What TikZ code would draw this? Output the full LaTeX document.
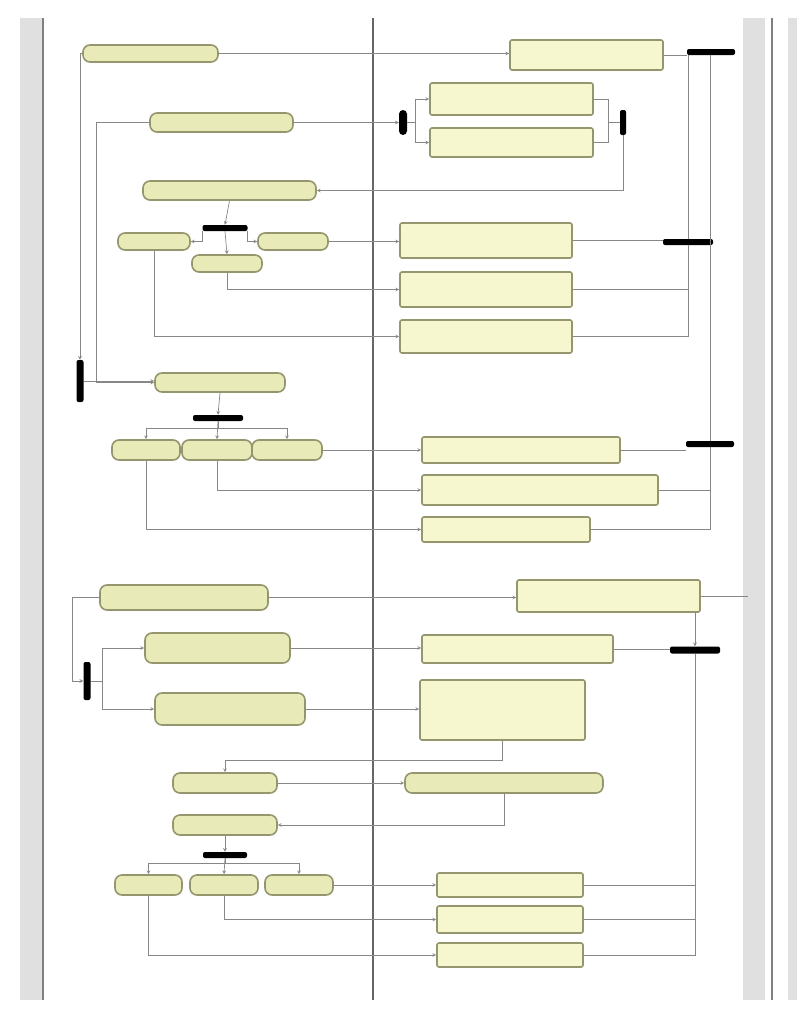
\documentclass[tikz,border=0pt]{standalone}
\usetikzlibrary{positioning}
\definecolor{boxfill}{RGB}{246,247,206}
\definecolor{pillfill}{RGB}{232,234,184}
\definecolor{boxline}{RGB}{150,150,110}
\definecolor{flowline}{RGB}{135,135,135}
\definecolor{lanegray}{RGB}{224,224,224}
\tikzset{
  lbox/.style={draw=boxline, fill=pillfill, line width=1.6pt, rounded corners=7pt, inner sep=0pt},
  rbox/.style={draw=boxline, fill=boxfill, line width=1.6pt, rounded corners=2pt, inner sep=0pt},
  bar/.style={fill=black, rounded corners=2pt, inner sep=0pt},
  flow/.style={draw=flowline, line width=0.7pt}
}

\begin{document}
\begin{tikzpicture}[x=1pt, y=-1pt, >=stealth]
    \useasboundingbox[fill=white] (0,0) rectangle (803,1012);

    % swimlanes
    \fill[lanegray] (20,18) rectangle (42,1000);
    \draw[gray, line width=1.8pt] (43,18) -- (43,1000);
    \draw[gray!80!black, line width=1.5pt] (373,18) -- (373,1000);
    \fill[lanegray] (743,18) rectangle (765,1000);
    \draw[gray, line width=1.8pt] (772,18) -- (772,1000);
    \fill[lanegray] (788,18) rectangle (797,1000);

    % left lane
    \node[lbox, minimum width=135, minimum height=17] at (150.5,53.5)(a1){};
    \node[lbox, minimum width=143, minimum height=19] at (221.5,122.5)(a2){};
    \node[lbox, minimum width=173, minimum height=19] at (229.5,190.5)(a3){};
    \node[lbox, minimum width=72, minimum height=17] at (154,241.5)(b1){};
    \node[lbox, minimum width=70, minimum height=17] at (293,241.5)(b2){};
    \node[lbox, minimum width=70, minimum height=17] at (227,263.5)(b3){};
    \node[lbox, minimum width=130, minimum height=19] at (220,382.5)(a4){};
    \node[lbox, minimum width=68, minimum height=20] at (146,450)(c1){};
    \node[lbox, minimum width=70, minimum height=20] at (217,450)(c2){};
    \node[lbox, minimum width=70, minimum height=20] at (287,450)(c3){};
    \node[lbox, minimum width=168, minimum height=25] at (184,597.5)(a5){};
    \node[lbox, minimum width=145, minimum height=30] at (217.5,648)(a6){};
    \node[lbox, minimum width=150, minimum height=32] at (230,709)(a7){};
    \node[lbox, minimum width=104, minimum height=20] at (225,783)(a8){};
    \node[lbox, minimum width=104, minimum height=20] at (225,825)(a9){};
    \node[lbox, minimum width=67, minimum height=20] at (148.5,885)(d1){};
    \node[lbox, minimum width=68, minimum height=20] at (224,885)(d2){};
    \node[lbox, minimum width=68, minimum height=20] at (299,885)(d3){};

    % right lane
    \node[rbox, minimum width=153, minimum height=30] at (586.5,55)(r1){};
    \node[rbox, minimum width=163, minimum height=32] at (511.5,99)(r2){};
    \node[rbox, minimum width=163, minimum height=29] at (511.5,142.5)(r3){};
    \node[rbox, minimum width=172, minimum height=35] at (486,240.5)(r4){};
    \node[rbox, minimum width=172, minimum height=35] at (486,289.5)(r5){};
    \node[rbox, minimum width=172, minimum height=33] at (486,336.5)(r6){};
    \node[rbox, minimum width=198, minimum height=26] at (521,450)(r7){};
    \node[rbox, minimum width=236, minimum height=30] at (540,490)(r8){};
    \node[rbox, minimum width=168, minimum height=25] at (506,529.5)(r9){};
    \node[rbox, minimum width=183, minimum height=32] at (608.5,596)(r10){};
    \node[rbox, minimum width=191, minimum height=28] at (517.5,649)(r11){};
    \node[rbox, minimum width=165, minimum height=60] at (502.5,710)(r12){};
    \node[lbox, minimum width=198, minimum height=20] at (504,783)(r13){};
    \node[rbox, minimum width=146, minimum height=24] at (510,885)(r14){};
    \node[rbox, minimum width=146, minimum height=27] at (510,919.5)(r15){};
    \node[rbox, minimum width=146, minimum height=24] at (510,955)(r16){};

    % fork and join bars
    \node[bar, minimum width=48, minimum height=6] at (711,52)(j0){};
    \node[bar, minimum width=8, minimum height=25, rounded corners=4pt] at (403,122.5)(f1){};
    \node[bar, minimum width=6, minimum height=25] at (623,122.5)(j1){};
    \node[bar, minimum width=45, minimum height=6] at (225,228)(f2){};
    \node[bar, minimum width=50, minimum height=6] at (688,242)(j2){};
    \node[bar, minimum width=7, minimum height=42] at (80,381)(j3){};
    \node[bar, minimum width=50, minimum height=6] at (218,418)(f3){};
    \node[bar, minimum width=48, minimum height=6] at (710,444)(j4){};
    \node[bar, minimum width=50, minimum height=7] at (695,650)(j5){};
    \node[bar, minimum width=7, minimum height=38] at (87,681)(j6){};
    \node[bar, minimum width=44, minimum height=6] at (225,855)(f4){};

    % upper flows
    \draw[flow, ->] (a1.east) -- (a1.east -| r1.west);
    \draw[flow] (r1.east) -- (r1.east -| j0.west);
    \draw[flow, ->] (a1.west) -| (j3.north);
    \draw[flow, ->] (a2.east) -- (f1.west);
    \draw[flow, ->] (f1.east) -- ++(8,0) |- (r2.west);
    \draw[flow, ->] (f1.east) -- ++(8,0) |- (r3.west);
    \draw[flow] (r2.east) -- ++(15,0) |- (j1.west);
    \draw[flow] (r3.east) -- ++(15,0) |- (j1.west);
    \draw[flow, ->] (j1.south) |- (a3.east);
    \draw[flow, ->] (a2.west) -- ++(-53,0) |- (a4.west);
    \draw[flow, ->] (j3.east) -- (j3.east -| a4.west);
    \draw[flow, ->] (a3.south) -- (f2.north);
    \draw[flow, ->] (f2.south west) |- (b1.east);
    \draw[flow, ->] (f2.south east) |- (b2.west);
    \draw[flow, ->] (f2.south) -- (b3.north);
    \draw[flow, ->] (b2.east) -- (b2.east -| r4.west);
    \draw[flow, ->] (b3.south) |- (r5.west);
    \draw[flow, ->] (b1.south) |- (r6.west);
    \draw[flow] (r4.east) -- (r4.east -| j2.west);
    \draw[flow] (r5.east) -| (j2.south);
    \draw[flow] (r6.east) -| (j2.south);
    \draw[flow] (j2.north) -- (j2.north |- j0.south);
    \draw[flow] (j4.north) -- (j4.north |- j0.south);

    % middle flows
    \draw[flow, ->] (a4.south) -- (f3.north);
    \draw[flow, ->] (f3.south) -- (c2.north);
    \draw[flow, ->] (f3.south) -- ++(0,7) -| (c1.north);
    \draw[flow, ->] (f3.south) -- ++(0,7) -| (c3.north);
    \draw[flow, ->] (c3.east) -- (c3.east -| r7.west);
    \draw[flow, ->] (c2.south) |- (r8.west);
    \draw[flow, ->] (c1.south) |- (r9.west);
    \draw[flow] (r7.east) -- (r7.east -| j4.west);
    \draw[flow] (r8.east) -| (j4.south);
    \draw[flow] (r9.east) -| (j4.south);

    % lower flows
    \draw[flow, ->] (a5.east) -- (a5.east -| r10.west);
    \draw[flow] (r10.east) -- ++(47,0);
    \draw[flow, ->] (j5.north |- r10.south) -- (j5.north);
    \draw[flow] (r11.east) -- (r11.east -| j5.west);
    \draw[flow, ->] (a5.west) -- ++(-27,0) |- (j6.west);
    \draw[flow, ->] (j6.east) -- ++(12,0) |- (a6.west);
    \draw[flow, ->] (j6.east) -- ++(12,0) |- (a7.west);
    \draw[flow, ->] (a6.east) -- (a6.east -| r11.west);
    \draw[flow, ->] (a7.east) -- (a7.east -| r12.west);
    \draw[flow, ->] (r12.south) -- ++(0,20) -| (a8.north);
    \draw[flow, ->] (a8.east) -- (r13.west);
    \draw[flow, ->] (r13.south) |- (a9.east);
    \draw[flow, ->] (a9.south) -- (f4.north);
    \draw[flow, ->] (f4.south) -- (d2.north);
    \draw[flow, ->] (f4.south) -- ++(0,5) -| (d1.north);
    \draw[flow, ->] (f4.south) -- ++(0,5) -| (d3.north);
    \draw[flow, ->] (d3.east) -- (d3.east -| r14.west);
    \draw[flow, ->] (d2.south) |- (r15.west);
    \draw[flow, ->] (d1.south) |- (r16.west);
    \draw[flow] (r14.east) -| (j5.south);
    \draw[flow] (r15.east) -| (j5.south);
    \draw[flow] (r16.east) -| (j5.south);
\end{tikzpicture}
\end{document}
